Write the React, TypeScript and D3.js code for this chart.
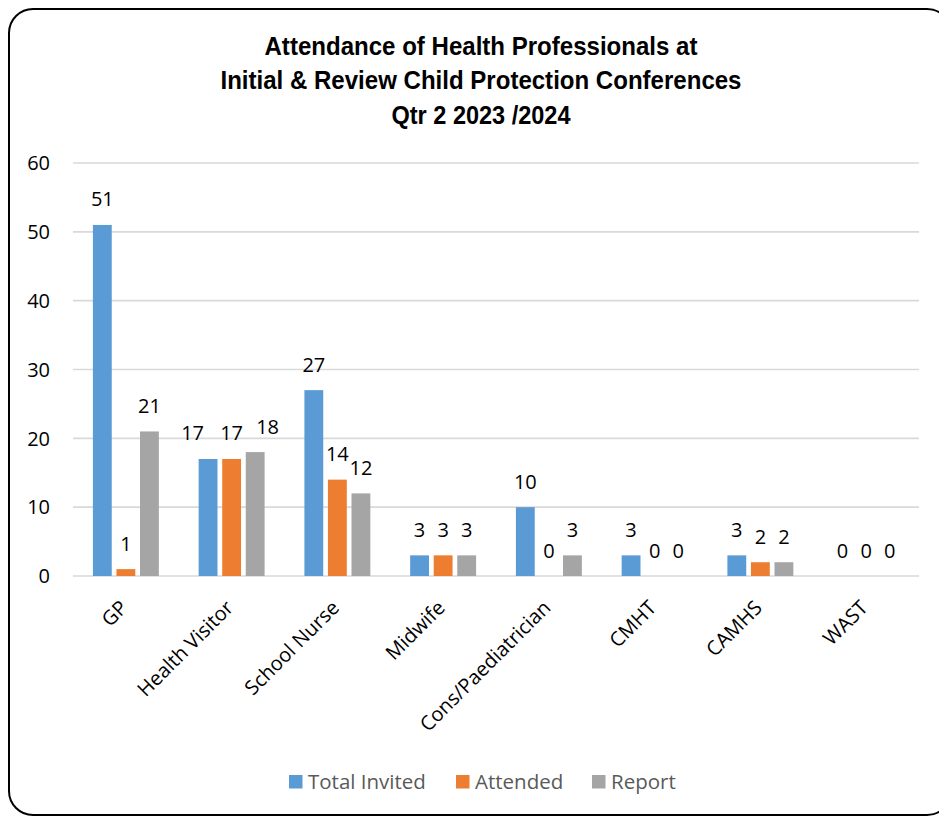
import React from "react";
import * as d3 from "d3";

const categories = ["GP", "Health Visitor", "School Nurse", "Midwife", "Cons/Paediatrician", "CMHT", "CAMHS", "WAST"];
const seriesNames = ["Total Invited", "Attended", "Report"];
const totalInvited = [51, 17, 27, 3, 10, 3, 3, 0];
const attended = [1, 17, 14, 3, 0, 0, 2, 0];
const report = [21, 18, 12, 3, 3, 0, 2, 0];
const yTicks = [0, 10, 20, 30, 40, 50, 60];
const titleLines = [
  "Attendance of Health Professionals at",
  "Initial & Review Child Protection Conferences",
  "Qtr 2 2023 /2024",
];

const colors = ["#5B9BD5", "#ED7D31", "#A5A5A5"];
const seriesValues = [totalInvited, attended, report];

export default function App() {
  const W = 939;
  const H = 816;
  const left = 73;
  const right = 919;
  const x0 = d3.scaleBand<string>().domain(categories).range([left, right]).paddingInner(0).paddingOuter(0);
  const x1 = d3
    .scaleBand<string>()
    .domain(seriesNames)
    .range([0, x0.bandwidth()])
    .paddingInner(0.2)
    .paddingOuter(0.845);
  const y = d3.scaleLinear().domain([0, 60]).range([576, 163]);

  const font = "'Open Sans', 'Noto Sans', sans-serif";
  const titleWidths = [433, 521, 179];
  const titleBase = [55, 89.3, 123.5];
  const legendX = [289, 456, 592];
  const labelOffset = 18.5;
  const digitW = 11.5;
  const labelH = 13;

  // compute label positions with simple overlap avoidance (like Excel)
  const labelPos = categories.map((c, ci) => {
    const items = seriesNames.map((s, si) => {
      const v = seriesValues[si][ci];
      return {
        v,
        x: x0(c)! + x1(s)! + x1.bandwidth() / 2,
        y: y(v) - labelOffset,
        w: String(v).length * digitW,
      };
    });
    const overlaps = (a: any, b: any) =>
      Math.abs(a.y - b.y) < labelH && b.x - b.w / 2 - (a.x + a.w / 2) < 2 && String(a.v).length > 1 && String(b.v).length > 1;
    if (overlaps(items[0], items[1])) items[0].x = items[1].x - (items[1].w / 2 + items[0].w / 2 + 16);
    if (overlaps(items[1], items[2])) items[2].x = items[1].x + (items[1].w / 2 + items[2].w / 2 + 13);
    return items;
  });

  return (
    <svg
      width={W}
      height={H}
      style={{ position: "absolute", left: 0, top: 0, overflow: "hidden", background: "#fff" }}
    >
      <rect x={0} y={0} width={W} height={H} fill="#fff" />
      <rect x={9} y={9} width={942} height={806} rx={24} ry={24} fill="#fff" stroke="#000" strokeWidth={2} />

      {titleLines.map((t, i) => (
        <text
          key={t}
          x={481}
          y={titleBase[i]}
          textAnchor="middle"
          fontFamily="'Liberation Sans Narrow', 'Arial Narrow', 'Liberation Sans', Arial, sans-serif"
          fontWeight="bold"
          fontSize={26}
          fill="#000"
          textLength={titleWidths[i]}
          lengthAdjust="spacingAndGlyphs"
        >
          {t}
        </text>
      ))}

      {yTicks.map((v) => (
        <g key={v}>
          <line x1={left} x2={right} y1={y(v)} y2={y(v)} stroke="#D9D9D9" strokeWidth={1.6} />
          <text x={50} y={y(v)} dy="0.36em" textAnchor="end" fontFamily={font} fontSize={20} fill="#000">
            {v}
          </text>
        </g>
      ))}

      {categories.map((c, ci) => (
        <g key={c}>
          {seriesNames.map((s, si) => {
            const v = seriesValues[si][ci];
            const bx = x0(c)! + x1(s)!;
            const bw = x1.bandwidth();
            return v > 0 ? (
              <rect key={s} x={bx} y={y(v)} width={bw} height={y(0) - y(v)} fill={colors[si]} />
            ) : null;
          })}
          {labelPos[ci].map((l, si) => (
            <text
              key={si}
              x={l.x}
              y={l.y}
              textAnchor="middle"
              fontFamily={font}
              fontSize={20}
              fill="#000"
            >
              {l.v}
            </text>
          ))}
        </g>
      ))}

      {categories.map((c) => {
        const cx = x0(c)! + x0.bandwidth() / 2 + 3;
        const cy = 609;
        return (
          <text
            key={c}
            x={cx}
            y={cy}
            transform={`rotate(-45 ${cx} ${cy})`}
            textAnchor="end"
            fontFamily={font}
            fontSize={20}
            fill="#000"
          >
            {c}
          </text>
        );
      })}

      {seriesNames.map((s, i) => (
        <g key={s}>
          <rect x={legendX[i]} y={775} width={13.5} height={13.5} fill={colors[i]} />
          <text x={legendX[i] + 19} y={789} fontFamily={font} fontSize={20.5} fill="#595959">
            {s}
          </text>
        </g>
      ))}
    </svg>
  );
}
